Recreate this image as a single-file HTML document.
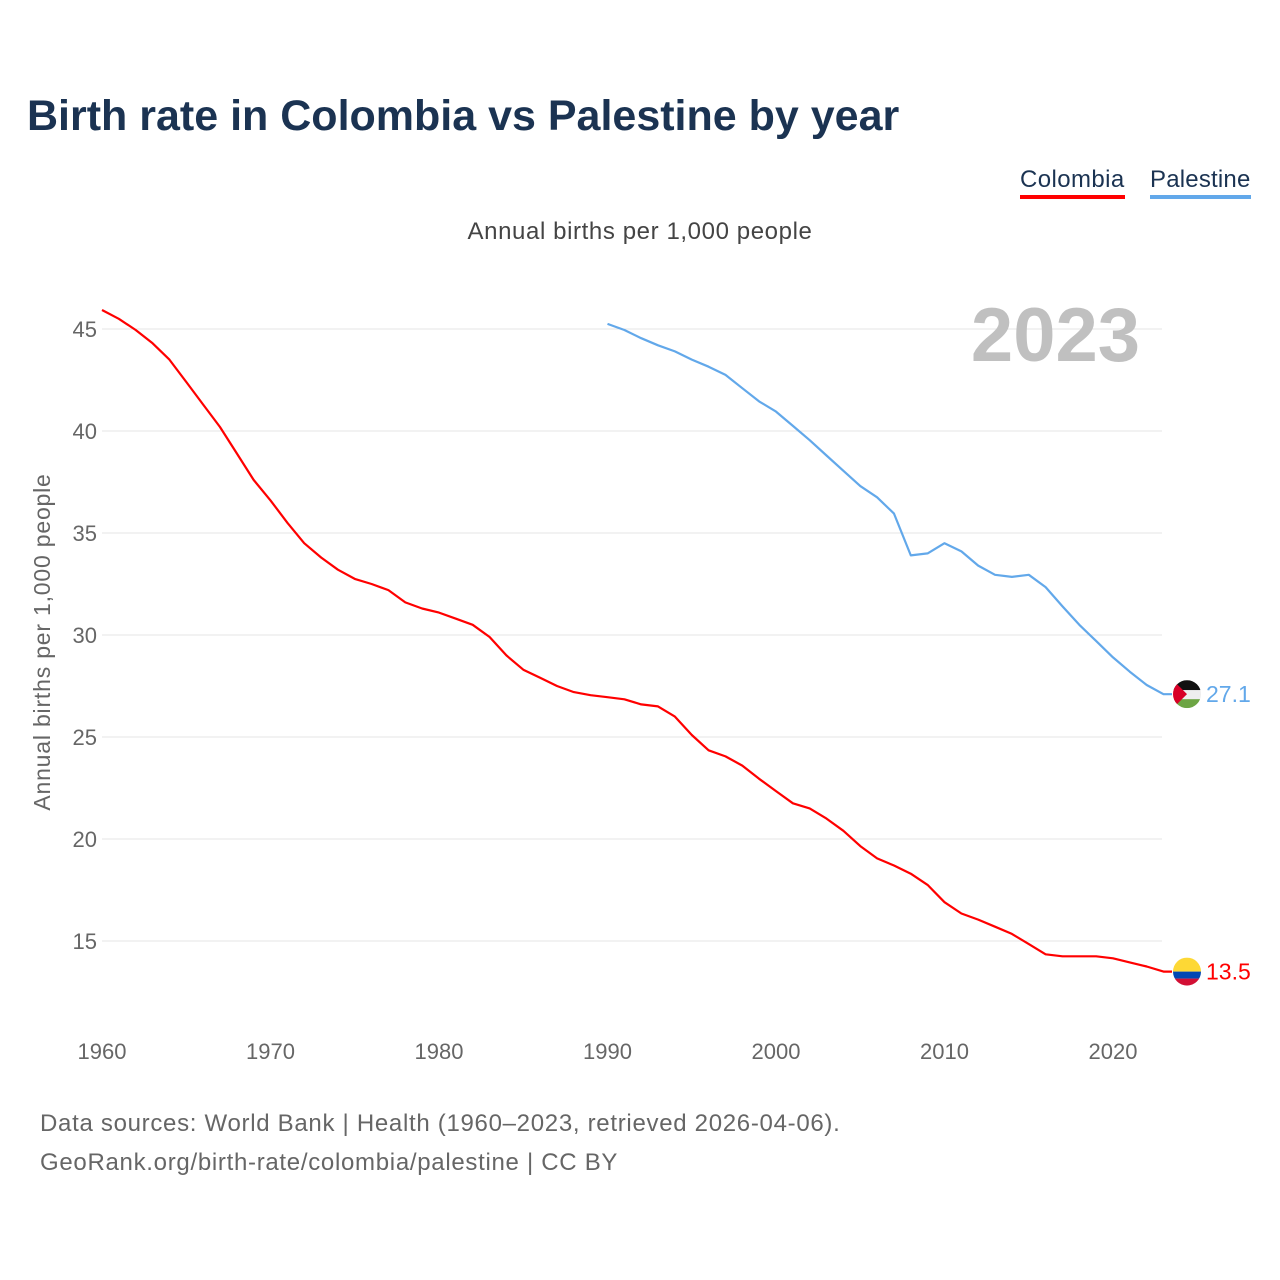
<!DOCTYPE html>
<html><head><meta charset="utf-8"><style>
body{margin:0;background:#fff;font-family:"Liberation Sans",sans-serif;}
#wrap{position:relative;width:1280px;height:1280px;overflow:hidden;}
.t{position:absolute;white-space:nowrap;}
</style></head><body>
<div id="wrap">
<div class="t" style="left:27px;top:92px;font-size:43px;font-weight:bold;color:#1b3352;">Birth rate in Colombia vs Palestine by year</div>
<div class="t" style="left:1020px;top:166px;font-size:24px;letter-spacing:0.4px;color:#1b3352;border-bottom:4px solid #ff0000;padding-bottom:1px;">Colombia</div>
<div class="t" style="left:1150px;top:166px;font-size:24px;letter-spacing:0.2px;color:#1b3352;border-bottom:4px solid #62a8ea;padding-bottom:1px;">Palestine</div>
<div class="t" style="left:0;width:1280px;text-align:center;top:218px;font-size:24px;letter-spacing:0.6px;color:#444;">Annual births per 1,000 people</div>
<div class="t" style="left:40px;top:1104px;font-size:24px;letter-spacing:0.7px;color:#666;line-height:39px;">Data sources: World Bank | Health (1960–2023, retrieved 2026-04-06).<br>GeoRank.org/birth-rate/colombia/palestine | CC BY</div>
<svg id="chart" width="1280" height="1280" style="position:absolute;left:0;top:0"></svg>
</div>
<script>
const years = Array.from({length:64},(_,i)=>1960+i);
const colombia = [45.93,45.5,44.95,44.3,43.5,42.4,41.3,40.2,38.9,37.6,36.6,35.5,34.5,33.8,33.2,32.75,32.5,32.2,31.6,31.3,31.1,30.8,30.5,29.9,29.0,28.3,27.9,27.5,27.2,27.05,26.95,26.85,26.6,26.5,26.0,25.1,24.35,24.05,23.6,22.95,22.35,21.75,21.5,21.0,20.4,19.65,19.05,18.7,18.3,17.75,16.9,16.35,16.05,15.7,15.35,14.85,14.35,14.25,14.25,14.25,14.15,13.95,13.75,13.5];
const palestineYears = Array.from({length:34},(_,i)=>1990+i);
const palestine = [45.25,44.95,44.55,44.2,43.9,43.5,43.15,42.75,42.1,41.45,40.95,40.25,39.55,38.8,38.05,37.3,36.75,35.95,33.9,34.0,34.5,34.1,33.4,32.95,32.85,32.95,32.35,31.4,30.5,29.7,28.9,28.2,27.55,27.1];
const yTicks = [15,20,25,30,35,40,45];
const xTicks = [1960,1970,1980,1990,2000,2010,2020];
const NS="http://www.w3.org/2000/svg", svg=document.getElementById('chart');
const X=y=>102+(y-1960)*(1113-102)/60;
const Y=v=>329+(45-v)*(941-329)/30;
function mk(tag,attrs,parent){const e=document.createElementNS(NS,tag);for(const k in attrs)e.setAttribute(k,attrs[k]);(parent||svg).appendChild(e);return e;}
yTicks.forEach(v=>{
  const l=mk('line',{x1:102,x2:1162,y1:Y(v),y2:Y(v),stroke:'#e4e4e4','stroke-width':1});
  
  
  const t=mk('text',{x:97,y:Y(v)+8,'text-anchor':'end','font-size':22,fill:'#666','font-family':'Liberation Sans, sans-serif'});
  t.textContent=v;
  
  
});
xTicks.forEach(v=>{
  const t=mk('text',{x:X(v),y:1059,'text-anchor':'middle','font-size':22,fill:'#666','font-family':'Liberation Sans, sans-serif'});
  t.textContent=v;
  
  
});
const yt=mk('text',{transform:'translate(50,642) rotate(-90)','text-anchor':'middle','font-size':23,'letter-spacing':0.8,fill:'#666','font-family':'Liberation Sans, sans-serif'});
yt.textContent='Annual births per 1,000 people';


const yr=mk('text',{x:1140,y:361,'text-anchor':'end','font-size':76,'font-weight':'bold',fill:'#c0c0c0','font-family':'Liberation Sans, sans-serif'});
yr.textContent='2023';


function series(xs,vs,color,name){
  let d=xs.map((y,i)=>(i?'L':'M')+X(y).toFixed(1)+' '+Y(vs[i]).toFixed(1)).join(' ');
  d+=' L1172 '+Y(vs[vs.length-1]).toFixed(1);
  const p=mk('path',{d:d,fill:'none',stroke:color,'stroke-width':2.2,'stroke-linejoin':'round'});
  
  
  const v=vs[vs.length-1];
  const lb=mk('text',{x:1206,y:Y(v)+8,'font-size':23,fill:color,'font-family':'Liberation Sans, sans-serif'});
  lb.textContent=v.toFixed(1);
  
  
  return Y(v);
}
const cy=series(years,colombia,'#ff0000','colombia');
const py=series(palestineYears,palestine,'#62a8ea','palestine');
const defs=mk('defs',{});
const cp1=mk('clipPath',{id:'c1'},defs);mk('circle',{cx:1187,cy:cy,r:14},cp1);
const cp2=mk('clipPath',{id:'c2'},defs);mk('circle',{cx:1187,cy:py,r:14},cp2);
const fc=mk('g',{'clip-path':'url(#c1)'});


mk('rect',{x:1173,y:cy-14,width:28,height:14,fill:'#fdd835'},fc);
mk('rect',{x:1173,y:cy,width:28,height:7,fill:'#0047b3'},fc);
mk('rect',{x:1173,y:cy+7,width:28,height:7,fill:'#d20f34'},fc);
const fp=mk('g',{'clip-path':'url(#c2)'});


mk('rect',{x:1173,y:py-14,width:28,height:10,fill:'#111'},fp);
mk('rect',{x:1173,y:py-4,width:28,height:9,fill:'#eee'},fp);
mk('rect',{x:1173,y:py+5,width:28,height:9,fill:'#6da544'},fp);
mk('polygon',{points:`1173,${py-14} 1187,${py} 1173,${py+14}`,fill:'#d80027'},fp);
</script>
</body></html>
